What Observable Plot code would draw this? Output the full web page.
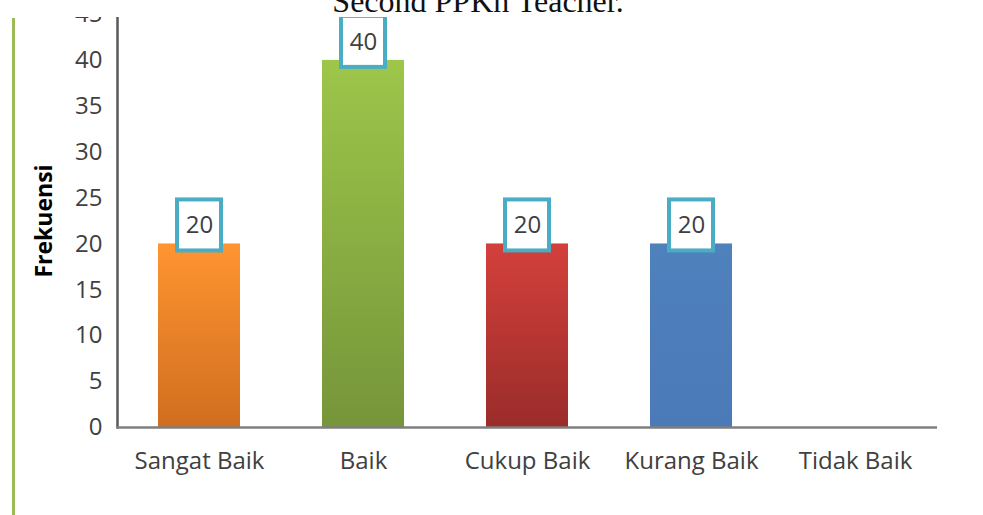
<!DOCTYPE html>
<html><head><meta charset="utf-8">
<script src="https://cdn.jsdelivr.net/npm/d3@7"></script>
<script src="https://cdn.jsdelivr.net/npm/@observablehq/plot@0.6"></script>
<style>
body{margin:0;background:#fff;overflow:hidden}
#wrap{position:relative;width:983px;height:515px}
#cover{position:absolute;left:0;top:0;width:983px;height:17px;background:#fff;overflow:hidden}
#title{position:absolute;left:0;width:956px;text-align:center;top:-15px;font-family:"Liberation Serif";font-size:32px;line-height:1;color:#111;white-space:nowrap}
#greenline{position:absolute;left:12px;top:18px;width:3px;height:497px;background:#9bbb59}
</style></head>
<body><div id="wrap"><div id="chart"></div><div id="cover"><div id="title">Second PPKn Teacher.</div></div><div id="greenline"></div></div>
<script>
const categories = ["Sangat Baik", "Baik", "Cukup Baik", "Kurang Baik", "Tidak Baik"];
const values = [20, 40, 20, 20, 0];
const yTicks = [0, 5, 10, 15, 20, 25, 30, 35, 40, 45];
const yLabel = "Frekuensi";
const gradTop = ["#ff9431", "#9dc64a", "#d4403b", "#4f81bd", "#ffffff"];
const gradBottom = ["#d06e1f", "#76953a", "#9a2c2a", "#4a7ab7", "#ffffff"];

const data = categories.map((c, i) => ({category: c, value: values[i]}));
const labelled = data.filter(d => d.value > 0);
const gradIds = categories.map((c, i) => "grad" + i);

const plot = Plot.plot({
  width: 983, height: 515,
  marginLeft: 117, marginRight: 46, marginTop: 14, marginBottom: 88,
  style: {fontFamily: "'Open Sans'", fontSize: "24px", color: "#404040", background: "white"},
  x: {domain: categories, paddingInner: 0.5, paddingOuter: 0.25, label: null},
  y: {domain: [0, 45], label: null},
  color: {type: "ordinal", domain: categories, range: gradIds.map(id => `url(#${id})`)},
  marks: [
    Plot.barY(data, {x: "category", y: "value", fill: "category"}),
    Plot.frame({anchor: "left", stroke: "#595959", strokeWidth: 2.5}),
    Plot.ruleY([0], {stroke: "#7f7f7f", strokeWidth: 2.5}),
    Plot.axisY({ticks: yTicks, tickSize: 0, tickPadding: 15, label: null}),
    Plot.axisX({tickSize: 0, tickPadding: 24, label: null}),
    Plot.barY(labelled, {x: "category", y1: "value", y2: "value",
      insetTop: -44, insetBottom: -7, insetLeft: 19, insetRight: 19,
      fill: "white", stroke: "#4bacc6", strokeWidth: 4}),
    Plot.text(labelled, {x: "category", y: "value", text: d => String(d.value), dy: -18.5, fontSize: 24, fill: "#404040"}),
    Plot.text([yLabel], {frameAnchor: "left", rotate: -90, dx: -73, text: d => d, fontWeight: "bold", fontSize: 23, fill: "#000", lineAnchor: "middle", textAnchor: "middle"})
  ]
});

const defs = d3.select(plot).insert("defs", ":first-child");
gradIds.forEach((id, i) => {
  const g = defs.append("linearGradient").attr("id", id).attr("x1", 0).attr("y1", 0).attr("x2", 0).attr("y2", 1);
  g.append("stop").attr("offset", "0%").attr("stop-color", gradTop[i]);
  g.append("stop").attr("offset", "100%").attr("stop-color", gradBottom[i]);
});

document.getElementById("chart").appendChild(plot);
</script>
</body></html>
